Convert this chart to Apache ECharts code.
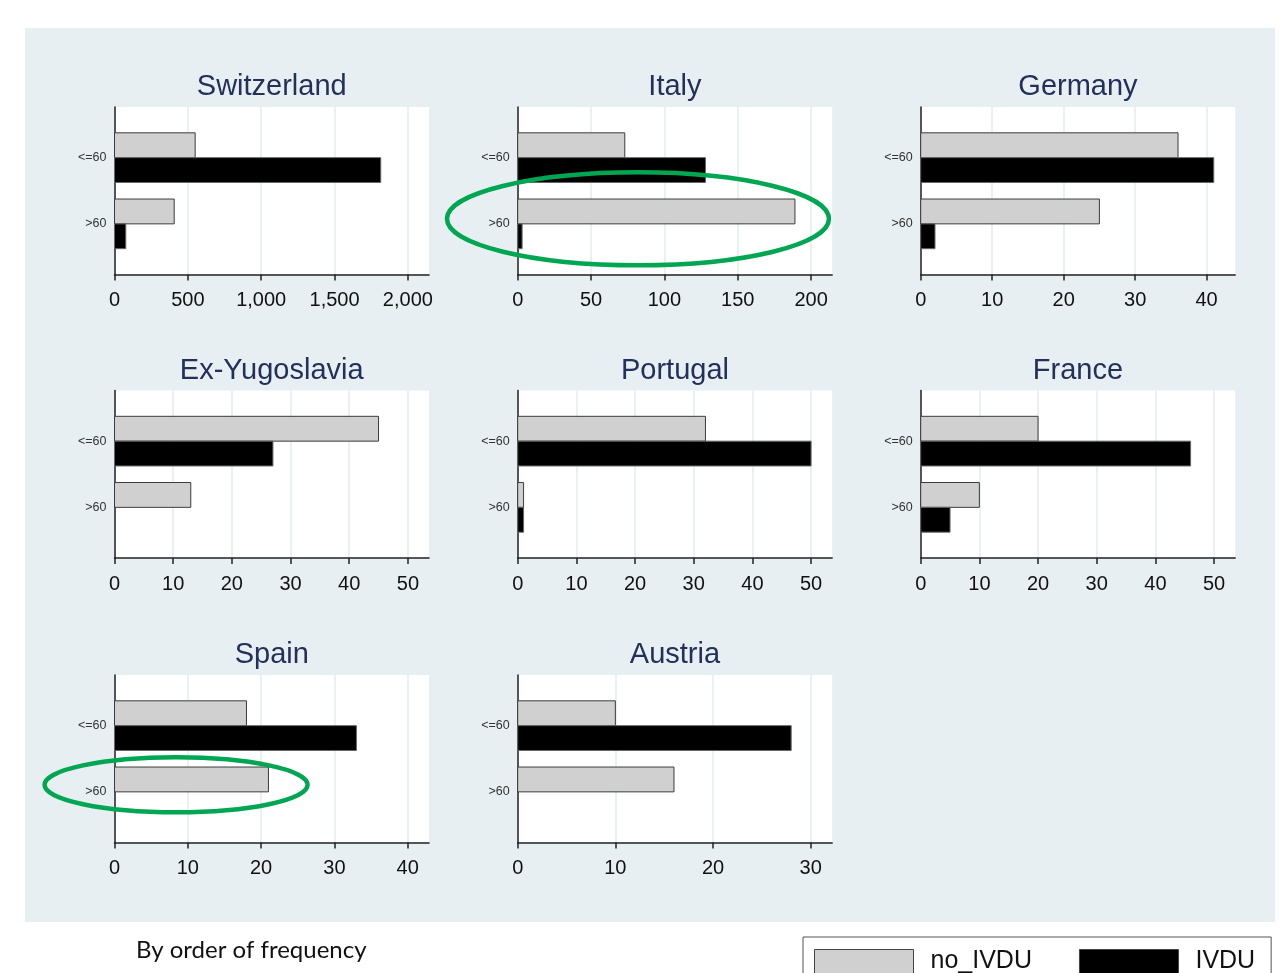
<!DOCTYPE html>
<html>
<head>
<meta charset="utf-8">
<title>IVDU by age and country</title>
<script src="https://cdn.jsdelivr.net/npm/echarts@6.0.0/dist/echarts.min.js"></script>
<style>
  html, body { margin: 0; padding: 0; background: #fff; }
  #frame { position: absolute; left: 25px; top: 28px; width: 1250px; height: 894px; background: #e8eff2; }
  #main { position: absolute; left: 0; top: 0; width: 1280px; height: 973px; }
</style>
</head>
<body>
<div id="frame"></div>
<div id="main"></div>
<script>
// panels, in order of frequency
const countries = ['Switzerland', 'Italy', 'Germany', 'Ex-Yugoslavia', 'Portugal', 'France', 'Spain', 'Austria']
const ageGroups = ['<=60', '>60']
// counts per panel: [<=60, >60]
const noIvdu = [[550, 407], [73, 189], [36, 25], [45, 13], [32, 1], [20, 10], [18, 21], [10, 16]]
const ivdu = [[1815, 77], [128, 3], [41, 2], [27, 0], [50, 1], [46, 5], [33, 0], [28, 0]]
const xTicks = [
  [0, 500, 1000, 1500, 2000],
  [0, 50, 100, 150, 200],
  [0, 10, 20, 30, 40],
  [0, 10, 20, 30, 40, 50],
  [0, 10, 20, 30, 40, 50],
  [0, 10, 20, 30, 40, 50],
  [0, 10, 20, 30, 40],
  [0, 10, 20, 30]
]
const xMax = [2144, 214.4, 44, 53.6, 53.6, 53.6, 42.9, 32.2]
// circled groups: panel index, x value of the ring centre, age group
const circled = [
  { panel: 1, x: 82, group: 1, rx: 191, ry: 46.5, dy: -5 },
  { panel: 6, x: 8.4, group: 1, rx: 131.5, ry: 27.5, dy: -7 }
]

const colLeft = [114.5, 517.7, 920.7]
const rowTop = [107, 390.5, 675]
const plotW = 314.5
const plotH = 167.5
const axisColor = '#222'
const font = 'Liberation Sans, Arial, sans-serif'

const chart = echarts.init(document.getElementById('main'))

function barItem(side) {
  return function(params, api) {
    const cat = api.value(0)
    const val = api.value(1)
    if (!val) return null
    const start = api.coord([0, cat])
    const end = api.coord([val, cat])
    const band = api.size([0, 1])[1] * 0.375
    return {
      type: 'rect',
      shape: {
        x: start[0],
        y: side < 0 ? start[1] - band : start[1],
        width: end[0] - start[0],
        height: band
      },
      style: api.style()
    }
  }
}

const grids = []
const xAxes = []
const yAxes = []
const series = []
const graphics = []

countries.forEach((name, i) => {
  const left = colLeft[i % 3]
  const top = rowTop[Math.floor(i / 3)]
  grids.push({
    left: left,
    top: top,
    width: plotW,
    height: plotH,
    show: true,
    backgroundColor: '#fff',
    borderWidth: 0,
    containLabel: false,
    outerBoundsMode: 'none'
  })
  xAxes.push({
    gridIndex: i,
    type: 'value',
    min: 0,
    max: xMax[i],
    interval: xTicks[i][1],
    axisLine: { show: true, onZero: false, lineStyle: { color: axisColor, width: 1.5 } },
    axisTick: { show: true, customValues: xTicks[i], length: 6, lineStyle: { color: axisColor, width: 1.5 } },
    axisLabel: {
      customValues: xTicks[i],
      formatter: v => v.toLocaleString('en-US'),
      fontSize: 20,
      fontFamily: font,
      color: '#111',
      margin: 16
    },
    splitLine: { show: true, lineStyle: { color: '#e3ebef', width: 1.5 } }
  })
  yAxes.push({
    gridIndex: i,
    type: 'value',
    inverse: true,
    min: -0.765,
    max: 1.765,
    axisLine: { show: true, onZero: false, lineStyle: { color: axisColor, width: 1.5 } },
    axisTick: { show: false },
    splitLine: { show: false },
    axisLabel: {
      customValues: [0, 1],
      formatter: v => ageGroups[v],
      fontSize: 12.5,
      fontFamily: font,
      color: '#333',
      margin: 8,
      padding: [4, 0, 0, 0]
    }
  })
  series.push({
    type: 'custom',
    name: 'no_IVDU',
    xAxisIndex: i,
    yAxisIndex: i,
    renderItem: barItem(-1),
    encode: { x: 1, y: 0 },
    data: noIvdu[i].map((v, k) => [k, v]),
    itemStyle: { color: '#d0d0d0', borderColor: '#3c3c3c', borderWidth: 1 }
  })
  series.push({
    type: 'custom',
    name: 'IVDU',
    xAxisIndex: i,
    yAxisIndex: i,
    renderItem: barItem(1),
    encode: { x: 1, y: 0 },
    data: ivdu[i].map((v, k) => [k, v]),
    itemStyle: { color: '#000', borderColor: '#666', borderWidth: 1 }
  })
  graphics.push({
    type: 'text',
    x: left + plotW / 2,
    y: top - 20,
    style: {
      text: name,
      font: '29px ' + font,
      fill: '#22305a',
      textAlign: 'center',
      textVerticalAlign: 'middle'
    }
  })
})

graphics.push({
  type: 'text',
  x: 136,
  y: 950,
  style: {
    text: 'By order of frequency',
    font: '24px Lato, "Open Sans", sans-serif',
    fill: '#111',
    textAlign: 'left',
    textVerticalAlign: 'middle'
  }
})

chart.setOption({
  animation: false,
  grid: grids,
  xAxis: xAxes,
  yAxis: yAxes,
  series: series,
  legend: {
    data: [
      { name: 'no_IVDU', itemStyle: { color: '#d0d0d0', borderColor: '#444', borderWidth: 1 } },
      { name: 'IVDU', itemStyle: { color: '#000', borderColor: '#444', borderWidth: 1 } }
    ],
    icon: 'rect',
    left: 803,
    top: 937,
    padding: [12, 16, 12, 11],
    itemWidth: 99,
    itemHeight: 40,
    itemGap: 47,
    borderColor: '#555',
    borderWidth: 1,
    selectedMode: false,
    formatter: name => '{t|' + name + '}',
    textStyle: {
      fontSize: 25,
      fontFamily: font,
      color: '#111',
      rich: {
        t: { fontSize: 25, fontFamily: font, color: '#111', padding: [0, 0, 16, 12] }
      }
    }
  },
  graphic: graphics
})

// rings drawn around the highlighted groups
circled.forEach(c => {
  const p = chart.convertToPixel({ gridIndex: c.panel }, [c.x, c.group])
  graphics.push({
    type: 'ellipse',
    shape: { cx: p[0], cy: p[1] + c.dy, rx: c.rx, ry: c.ry },
    style: { fill: 'none', stroke: '#00a651', lineWidth: 4.5 },
    z: 10
  })
})
chart.setOption({ graphic: graphics })
</script>
</body>
</html>
